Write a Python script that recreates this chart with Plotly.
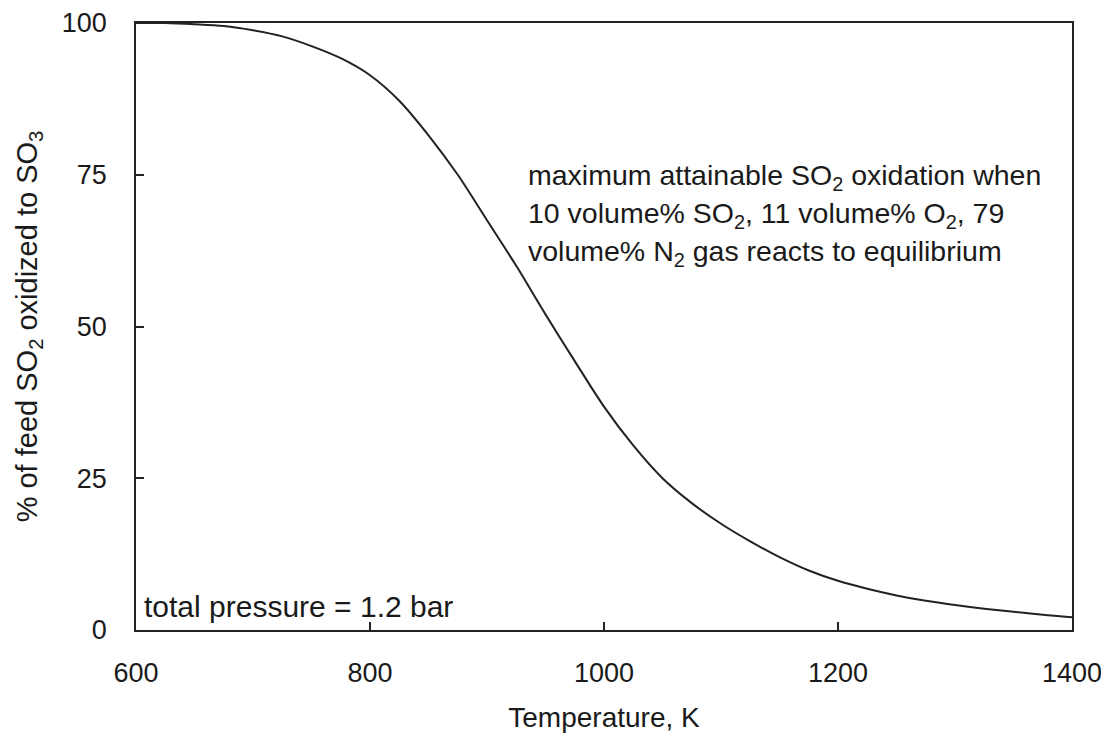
import plotly.graph_objects as go

temperature_K = [600, 625, 650, 675, 700, 725, 750, 775, 800, 825, 850, 875, 900, 925, 950, 975,
                 1000, 1025, 1050, 1075, 1100, 1125, 1150, 1175, 1200, 1225, 1250, 1275, 1300,
                 1325, 1350, 1375, 1400]
pct_oxidized = [100, 100, 99.8, 99.5, 98.8, 97.8, 96.2, 94.2, 91.4, 87.2, 81.5, 75.0, 67.5, 60.0,
                52.0, 44.3, 36.8, 30.4, 25.0, 20.9, 17.5, 14.6, 12.0, 9.8, 8.1, 6.8, 5.7, 4.8,
                4.1, 3.5, 3.0, 2.5, 2.1]

x_ticks = [600, 800, 1000, 1200, 1400]
y_ticks = [0, 25, 50, 75, 100]

FONT = "Liberation Sans, Arial, sans-serif"
INK = "#1a1a1a"

# page body has ~8px default margin
OFF = 8
W, H = 1109 - OFF, 741 - 2 * OFF
L = 136 - OFF
T = 23 - OFF
R = (OFF + W) - 1072
B = (OFF + H) - 630
pw, ph = W - L - R, H - T - B


def px(xp):
    return (xp - OFF - L) / pw


def py(yp):
    return 1 - (yp - OFF - T) / ph


fig = go.Figure()
fig.add_trace(go.Scatter(
    x=temperature_K, y=pct_oxidized, mode="lines",
    line=dict(color="#222222", width=2, shape="spline", smoothing=0.9),
    showlegend=False, hoverinfo="skip",
))

annot = [
    ("maximum attainable SO<sub>2</sub> oxidation when", 177),
    ("10 volume% SO<sub>2</sub>, 11 volume% O<sub>2</sub>, 79", 215),
    ("volume% N<sub>2</sub> gas reacts to equilibrium", 253),
]
for txt, ypix in annot:
    fig.add_annotation(
        x=px(526), y=py(ypix), xref="paper", yref="paper", text=txt, showarrow=False,
        xanchor="left", yanchor="middle",
        font=dict(family=FONT, size=28.5, color=INK),
    )

fig.add_annotation(
    x=px(142), y=py(606), xref="paper", yref="paper",
    text="total pressure = 1.2 bar", showarrow=False,
    xanchor="left", yanchor="middle",
    font=dict(family=FONT, size=30, color=INK),
)

fig.update_layout(
    width=W, height=H,
    margin=dict(l=L, r=R, t=T, b=B, autoexpand=False),
    paper_bgcolor="white", plot_bgcolor="white",
    font=dict(family=FONT, size=27, color=INK),
)
fig.update_xaxes(
    range=[600, 1400], tickvals=x_ticks, ticktext=[str(v) for v in x_ticks],
    ticks="inside", ticklen=8, tickwidth=1.5, tickcolor="#222222",
    showline=True, linecolor="#222222", linewidth=1.5, mirror=True,
    showgrid=False, zeroline=False, ticklabelstandoff=18, automargin=False,
    title=dict(text="Temperature, K", font=dict(size=28, family=FONT, color=INK), standoff=23),
    tickfont=dict(size=27, family=FONT, color=INK),
)
fig.update_yaxes(
    range=[0, 100], tickvals=y_ticks, ticktext=[str(v) for v in y_ticks],
    ticks="inside", ticklen=8, tickwidth=1.5, tickcolor="#222222",
    showline=True, linecolor="#222222", linewidth=1.5, mirror=True,
    showgrid=False, zeroline=False, ticklabelstandoff=22, automargin=False,
    title=dict(text="% of feed SO<sub>2</sub> oxidized to SO<sub>3</sub>",
               font=dict(size=29, family=FONT, color=INK), standoff=16),
    tickfont=dict(size=27, family=FONT, color=INK),
)

fig.write_html("out.html")
